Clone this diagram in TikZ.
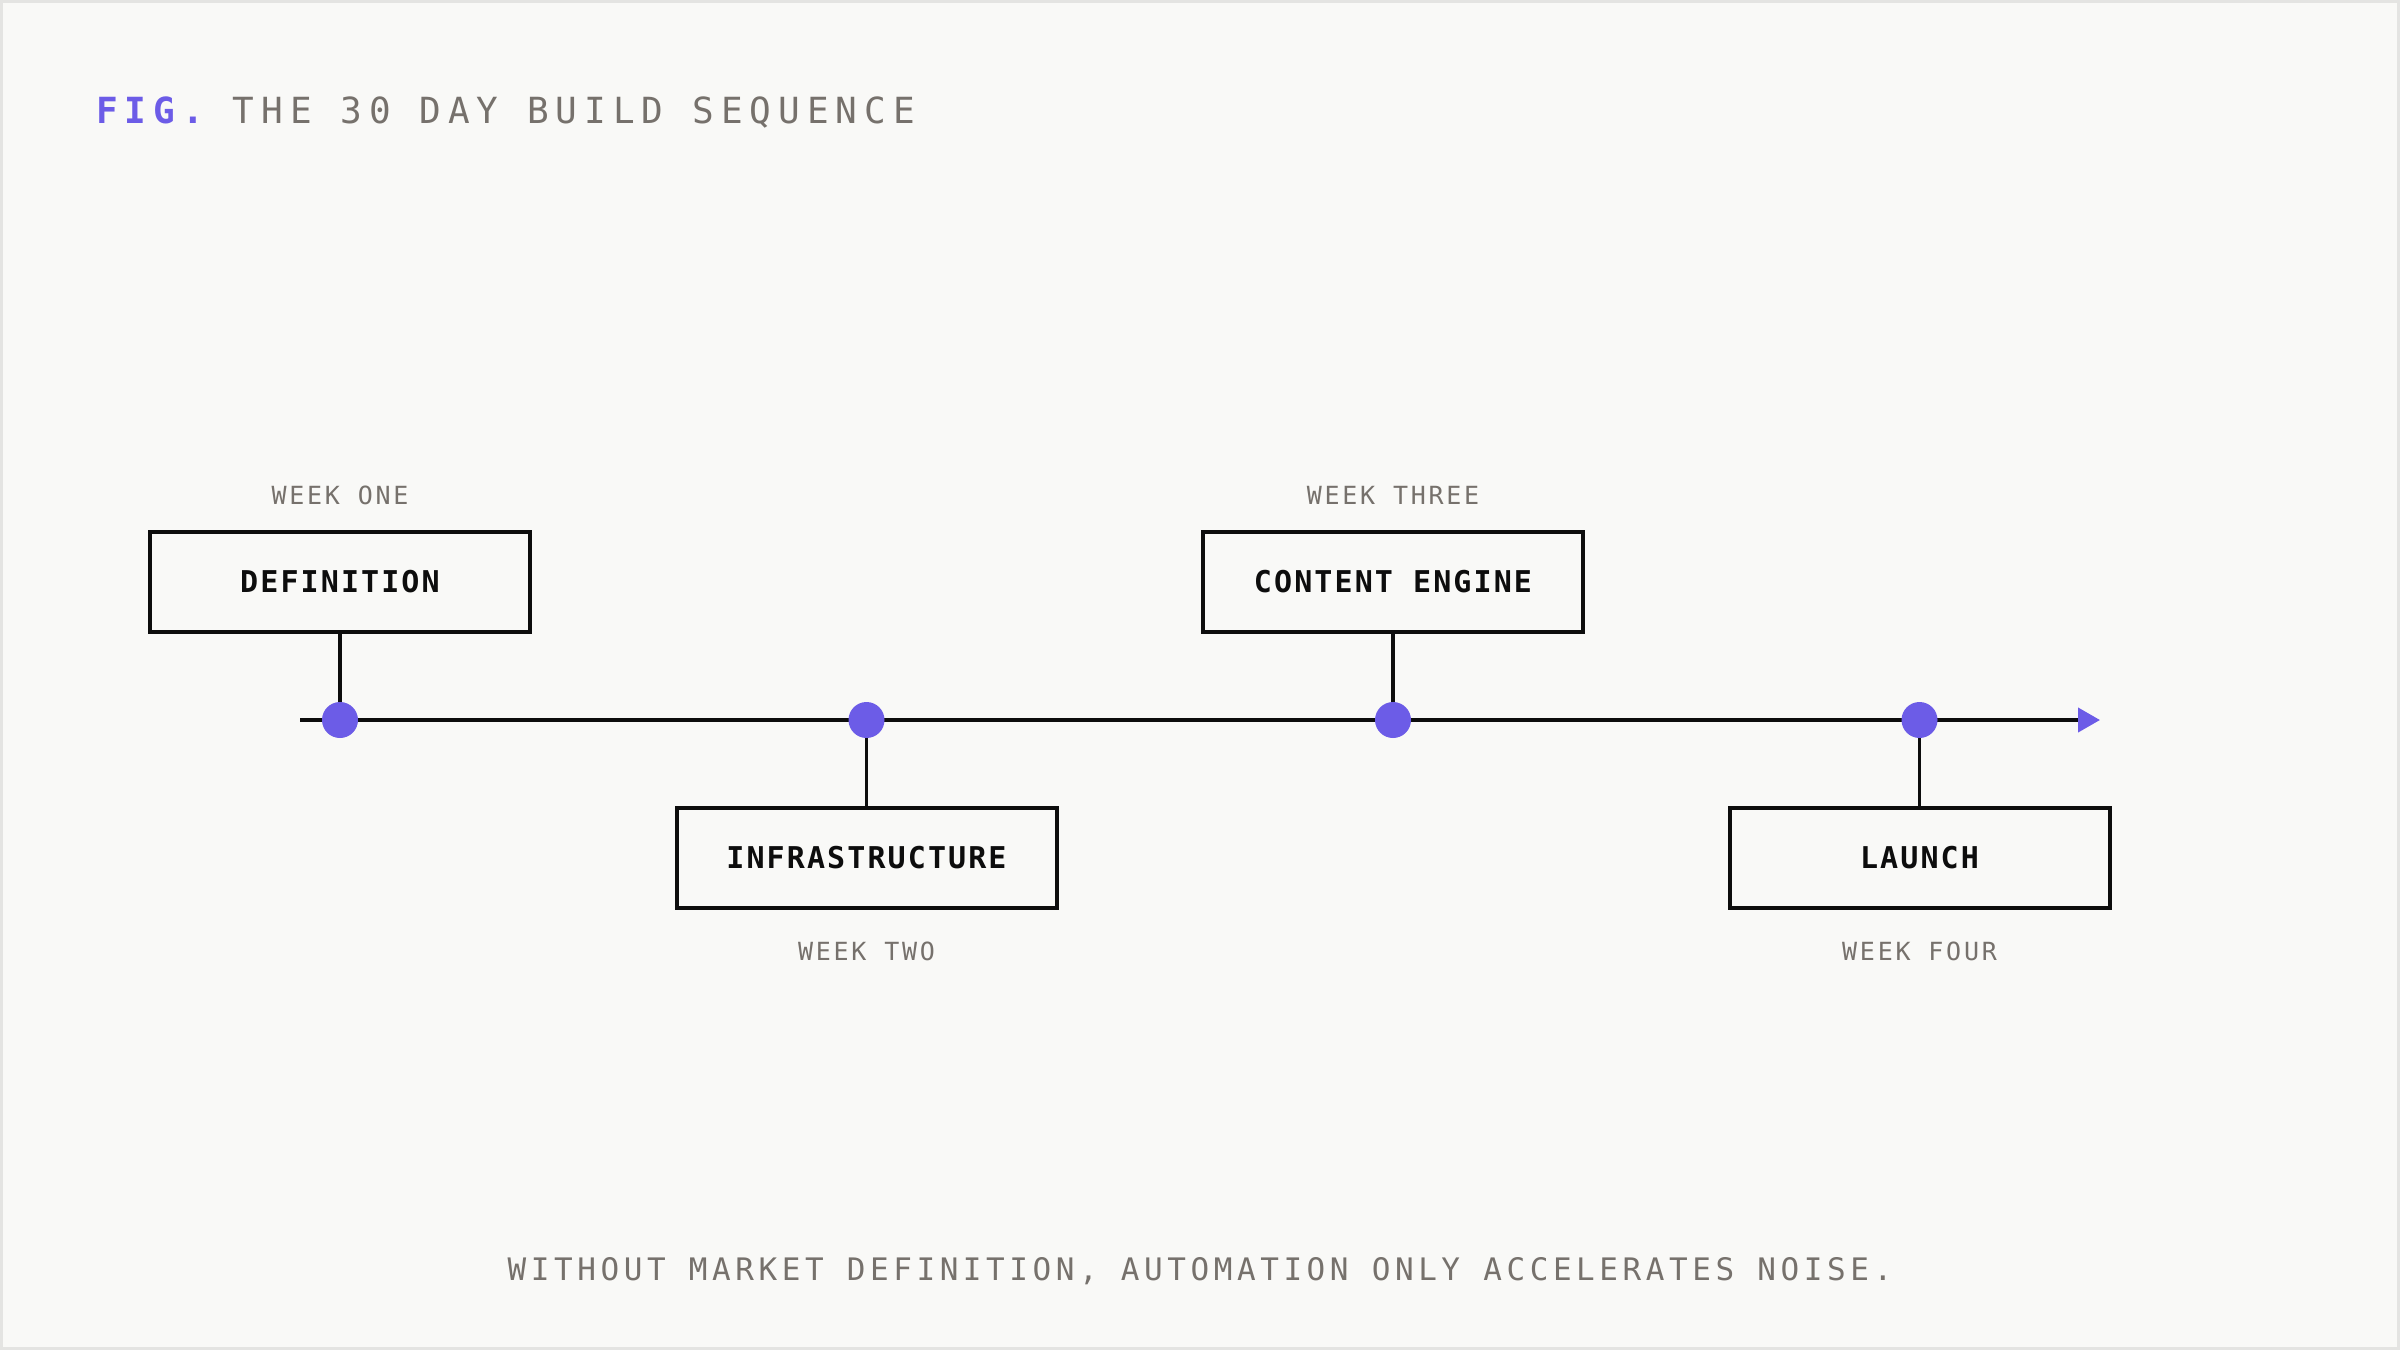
\documentclass[tikz,border=0pt]{standalone}
\usepackage{fontspec}
\usetikzlibrary{arrows.meta}
\newfontfamily\monoTitle[LetterSpace=19.5]{DejaVu Sans Mono}
\newfontfamily\monoBox[LetterSpace=7]{DejaVu Sans Mono}
\newfontfamily\monoWeek[LetterSpace=11]{DejaVu Sans Mono}
\newfontfamily\monoFoot[LetterSpace=14.7]{DejaVu Sans Mono}
\definecolor{accent}{HTML}{6C5CE7}
\definecolor{softgrey}{HTML}{76716C}
\definecolor{paper}{HTML}{F9F9F7}
\definecolor{framegrey}{HTML}{E4E4E2}
\definecolor{ink}{HTML}{0D0D0D}
\begin{document}
\begin{tikzpicture}[x=1pt,y=-1pt,
  stagebox/.style={draw=ink, line width=4pt, fill=paper, minimum width=380pt, minimum height=100pt, inner sep=0pt,
    font=\monoBox\bfseries\fontsize{30}{30}\selectfont, text=ink},
  weeklabel/.style={anchor=base, inner sep=0pt, text=softgrey, font=\monoWeek\fontsize{25}{25}\selectfont},
  milestone/.style={circle, fill=accent, draw=none, minimum size=36pt, inner sep=0pt},
  stem/.style={draw=ink, line width=3.5pt}
]
\useasboundingbox (0,0) rectangle (2400,1350);
\fill[paper] (0,0) rectangle (2400,1350);
\draw[framegrey, line width=3pt] (1.5,1.5) rectangle (2398.5,1348.5);

% title
\node[anchor=base west, inner sep=0pt, font=\monoTitle\fontsize{36}{36}\selectfont] (title) at (96,123)
  {\textcolor{accent}{\bfseries FIG.} \textcolor{softgrey}{THE 30 DAY BUILD SEQUENCE}};

% timeline
\coordinate (tstart) at (300,720);
\coordinate (tend) at (2100,720);
\draw[ink, line width=4pt, -{Triangle[length=22pt, width=24pt, color=accent, fill=accent]}] (tstart) -- (tend);

% milestones
\node[milestone] (m1) at (340,720) {};
\node[milestone] (m2) at (866.5,720) {};
\node[milestone] (m3) at (1393,720) {};
\node[milestone] (m4) at (1919.5,720) {};

% boxes
\node[stagebox] (b1) at (340,582) {DEFINITION};
\node[stagebox] (b2) at (866.5,858) {INFRASTRUCTURE};
\node[stagebox] (b3) at (1393,582) {CONTENT ENGINE};
\node[stagebox] (b4) at (1919.5,858) {LAUNCH};

% stems
\draw[stem] (b1.south) -- (m1);
\draw[stem] (b2.north) -- (m2);
\draw[stem] (b3.south) -- (m3);
\draw[stem] (b4.north) -- (m4);

% week labels
\node[weeklabel] (w1) at (340,504) {WEEK ONE};
\node[weeklabel] (w2) at (866.5,960) {WEEK TWO};
\node[weeklabel] (w3) at (1393,504) {WEEK THREE};
\node[weeklabel] (w4) at (1919.5,960) {WEEK FOUR};

% footer
\node[anchor=base, inner sep=0pt, text=softgrey, font=\monoFoot\fontsize{31}{31}\selectfont] (footer) at (1200,1280)
  {WITHOUT MARKET DEFINITION, AUTOMATION ONLY ACCELERATES NOISE.};
\end{tikzpicture}
\end{document}
